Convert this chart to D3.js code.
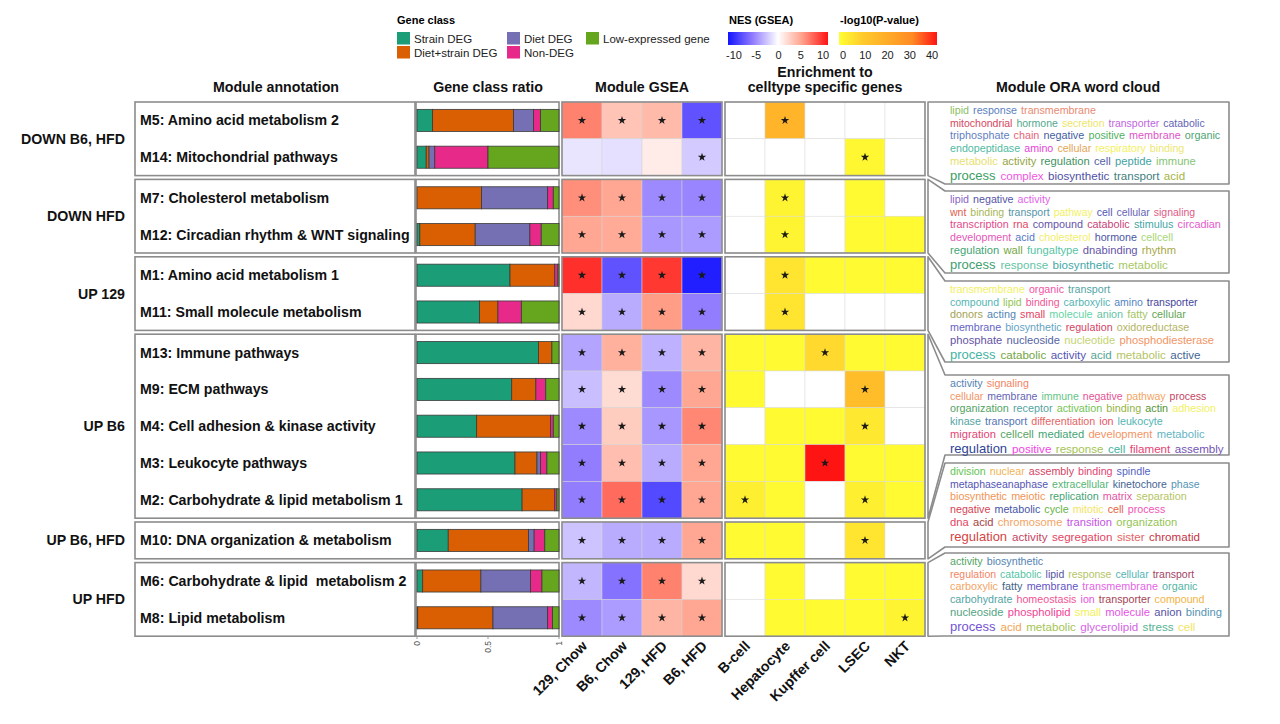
<!DOCTYPE html>
<html><head><meta charset="utf-8">
<script src="https://cdn.jsdelivr.net/npm/d3@7"></script>
<style>body{margin:0;background:#fff} text{font-family:"Liberation Sans",Arial,Helvetica,sans-serif}</style>
</head><body><svg id="c" width="1280" height="724"></svg>
<script>
// ---------------- DATA ----------------
const groups = ["DOWN B6, HFD","DOWN HFD","UP 129","UP B6","UP B6, HFD","UP HFD"];
const groupSizes = [2,2,2,5,1,2];
const modules = ["M5: Amino acid metabolism 2","M14: Mitochondrial pathways","M7: Cholesterol metabolism",
  "M12: Circadian rhythm & WNT signaling","M1: Amino acid metabolism 1","M11: Small molecule metabolism",
  "M13: Immune pathways","M9: ECM pathways","M4: Cell adhesion & kinase activity","M3: Leukocyte pathways",
  "M2: Carbohydrate & lipid metabolism 1","M10: DNA organization & metabolism",
  "M6: Carbohydrate & lipid  metabolism 2","M8: Lipid metabolism"];
const geneClasses = ["Strain DEG","Diet+strain DEG","Diet DEG","Non-DEG","Low-expressed gene"];
const classColors = ["#1b9e77","#d95f02","#7570b3","#e7298a","#66a61e"];
const strainDEG      = [0.11,0.065,0.0, 0.02,0.655,0.44,0.855,0.667,0.42,0.69,0.74,0.22,0.04,0.005];
const dietStrainDEG  = [0.57,0.02,0.455,0.39,0.315,0.13,0.095,0.17,0.52,0.155,0.23,0.565,0.41,0.53];
const dietDEG        = [0.14,0.04,0.465,0.385,0.0,0.0, 0.0, 0.0, 0.0, 0.025,0.0, 0.04,0.35,0.385];
const nonDEG         = [0.05,0.375,0.04,0.08,0.022,0.165,0.0,0.07,0.02,0.045,0.015,0.075,0.08,0.035];
const lowExpressed   = [0.13,0.50,0.04,0.125,0.008,0.265,0.05,0.093,0.04,0.085,0.015,0.10,0.12,0.045];

const gseaConditions = ["129, Chow","B6, Chow","129, HFD","B6, HFD"];
const nes129Chow = [6.0,-1.0, 5.5, 4.5, 9.0, 2.0,-3.5,-2.5,-4.5,-5.0,-5.0,-2.3,-2.8,-4.5];
const nesB6Chow  = [3.0,-1.2, 4.5, 4.3,-7.0,-3.2, 4.0, 1.8, 2.6, 3.3, 6.8,-3.2,-5.5,-3.8];
const nes129HFD  = [3.5, 1.0,-4.5,-4.0, 8.7, 5.0,-3.0,-4.5,-4.0,-3.2,-7.5,-3.2, 6.0, 3.8];
const nesB6HFD   = [-7.0,-2.0,-4.7,-3.8,-9.5,-5.0,3.8, 4.5, 5.8, 4.5, 4.5, 4.5, 2.0, 4.5];
const sig129Chow = [1,0,1,1,1,1,1,1,1,1,1,1,1,1];
const sigB6Chow  = [1,0,1,1,1,1,1,1,1,1,1,1,1,1];
const sig129HFD  = [1,0,1,1,1,1,1,1,1,1,1,1,1,1];
const sigB6HFD   = [1,1,1,1,1,1,1,1,1,1,1,1,1,1];

const celltypes = ["B-cell","Hepatocyte","Kupffer cell","LSEC","NKT"];
const pBcell   = [null,null,null,null,null,null,1,1,null,1,3,1,null,null];
const pHepato  = [17,null,2,2,5,5,1,null,1,1,1,1,1,1];
const pKupffer = [null,null,null,null,1,null,7,null,1,40,null,null,null,1];
const pLSEC    = [null,1.5,1,1,1,null,1,14,4,1,3,5,1,1];
const pNKT     = [null,null,null,1,1,null,1,null,null,1,1,null,1,2];
const sigBcell   = [0,0,0,0,0,0,0,0,0,0,1,0,0,0];
const sigHepato  = [1,0,1,1,1,1,0,0,0,0,0,0,0,0];
const sigKupffer = [0,0,0,0,0,0,1,0,0,1,0,0,0,0];
const sigLSEC    = [0,1,0,0,0,0,0,1,1,0,1,1,0,0];
const sigNKT     = [0,0,0,0,0,0,0,0,0,0,0,0,0,1];

const nesTicks = [-10,-5,0,5,10];
const pTicks = [0,10,20,30,40];
const barTicks = [0,0.5,1];

const cloud1 = [
 [["lipid","#8cc063"],["response","#5b7fc0"],["transmembrane","#ea8a72"]],
 [["mitochondrial","#d6465e"],["hormone","#4fa98c"],["secretion","#ede56a"],["transporter","#c065e0"],["catabolic","#6464b4"]],
 [["triphosphate","#5f7fc0"],["chain","#e6647a"],["negative","#44609f"],["positive","#52b062"],["membrane","#e055c8"],["organic","#4fa372"]],
 [["endopeptidase","#52baa2"],["amino","#e544d6"],["cellular","#e3a655"],["respiratory","#f4f060"],["binding","#ede772"]],
 [["metabolic","#e8e070"],["activity","#94a544"],["regulation","#3f9262"],["cell","#5262a5"],["peptide","#41a2a2"],["immune","#84c473"]],
 [["process","#3aa064"],["complex","#f055e3"],["biosynthetic","#5050a4"],["transport","#3f8080"],["acid","#a4b444"]]];
const cloud2 = [
 [["lipid","#8a64c8"],["negative","#5454a8"],["activity","#e064e6"]],
 [["wnt","#e0604e"],["binding","#a8b658"],["transport","#5594a8"],["pathway","#f2f064"],["cell","#5254b4"],["cellular","#6464b4"],["signaling","#e05a86"]],
 [["transcription","#e4488a"],["rna","#e44866"],["compound","#6454a8"],["catabolic","#c84478"],["stimulus","#44a6a6"],["circadian","#e458cc"]],
 [["development","#e458b8"],["acid","#5478c8"],["cholesterol","#f2ee6a"],["hormone","#4a56a6"],["cellcell","#a8d678"]],
 [["regulation","#44a474"],["wall","#74a844"],["fungaltype","#56c4a6"],["dnabinding","#6454a8"],["rhythm","#a8a848"]],
 [["process","#40a070"],["response","#64c4a4"],["biosynthetic","#44a8a8"],["metabolic","#a8c864"]]];
const cloud3 = [
 [["transmembrane","#f2f064"],["organic","#f254a4"],["transport","#54a4a4"]],
 [["compound","#54b4b4"],["lipid","#94c454"],["binding","#f25494"],["carboxylic","#54b4b4"],["amino","#5484c4"],["transporter","#44449a"]],
 [["donors","#a4a454"],["acting","#5484b4"],["small","#e44464"],["molecule","#64d4a4"],["anion","#64c4a4"],["fatty","#a4c464"],["cellular","#64a454"]],
 [["membrane","#6464c4"],["biosynthetic","#64a4c4"],["regulation","#d44464"],["oxidoreductase","#b4b464"]],
 [["phosphate","#6454a4"],["nucleoside","#5464a4"],["nucleotide","#c4d474"],["phosphodiesterase","#f29464"]],
 [["process","#44b4a4"],["catabolic","#74a444"],["activity","#5454b4"],["acid","#54a494"],["metabolic","#b4c464"],["active","#446494"]]];
const cloud4 = [
 [["activity","#5484b4"],["signaling","#f28464"]],
 [["cellular","#f29464"],["membrane","#6464b4"],["immune","#64c484"],["negative","#e45494"],["pathway","#f2a464"],["process","#c44464"]],
 [["organization","#54a464"],["receptor","#54a4a4"],["activation","#74c454"],["binding","#94b444"],["actin","#549434"],["adhesion","#f2f064"]],
 [["kinase","#54a4a4"],["transport","#5474b4"],["differentiation","#e46464"],["ion","#e45464"],["leukocyte","#54b4b4"]],
 [["migration","#e44474"],["cellcell","#54a464"],["mediated","#44a474"],["development","#f29464"],["metabolic","#64b4c4"]],
 [["regulation","#304494"],["positive","#f244e4"],["response","#a4c454"],["cell","#44b4a4"],["filament","#e44474"],["assembly","#7454b4"]]];
const cloud5 = [
 [["division","#64c454"],["nuclear","#f2b454"],["assembly","#d44464"],["binding","#e44474"],["spindle","#5464c4"]],
 [["metaphaseanaphase","#5454b4"],["extracellular","#54b474"],["kinetochore","#446494"],["phase","#5494b4"]],
 [["biosynthetic","#f29454"],["meiotic","#f29454"],["replication","#44a474"],["matrix","#e454a4"],["separation","#b4c464"]],
 [["negative","#d44454"],["metabolic","#4454a4"],["cycle","#64b444"],["mitotic","#f2e464"],["cell","#e46444"],["process","#f254b4"]],
 [["dna","#e44464"],["acid","#a44444"],["chromosome","#f2a464"],["transition","#c454e4"],["organization","#94c454"]],
 [["regulation","#d44444"],["activity","#c44464"],["segregation","#e44464"],["sister","#e46464"],["chromatid","#c43444"]]];
const cloud6 = [
 [["activity","#54a464"],["biosynthetic","#5484b4"]],
 [["regulation","#f28464"],["catabolic","#54c4a4"],["lipid","#5454a4"],["response","#b4c464"],["cellular","#54b4b4"],["transport","#a44464"]],
 [["carboxylic","#f2a464"],["fatty","#446484"],["membrane","#6454c4"],["transmembrane","#e464e4"],["organic","#54b4a4"]],
 [["carbohydrate","#54a4a4"],["homeostasis","#f25494"],["ion","#e454e4"],["transporter","#a44454"],["compound","#f2b444"]],
 [["nucleoside","#54a484"],["phospholipid","#f24494"],["small","#f2f054"],["molecule","#e454e4"],["anion","#5454a4"],["binding","#5494b4"]],
 [["process","#7454d4"],["acid","#f2a454"],["metabolic","#a4c454"],["glycerolipid","#d464e4"],["stress","#54b494"],["cell","#f2e464"]]];
const clouds = [cloud1,cloud2,cloud3,cloud4,cloud5,cloud6];
const cloudBoxes = [[102,184],[191,273],[281,362],[375,455],[463,547],[553,636]];

// ---------------- LAYOUT ----------------
const svg = d3.select("#c");
const frameCol = "#8c8c8c";
const BOLD = 14.2;
const rowH = 36.8, gap = 3.8, topY = 102;
const groupIdx = [];
groupSizes.forEach((n,g)=>{for(let k=0;k<n;k++) groupIdx.push(g);});
const y = d3.scaleBand().domain(modules).range([topY, topY + modules.length*rowH]).padding(0);
const rowTop = (m) => y(m) + groupIdx[modules.indexOf(m)]*gap;
const groupExt = groups.map((g,gi)=>{
  const ms = modules.filter((m,i)=>groupIdx[i]===gi);
  return {name:g, top: rowTop(ms[0]), bot: rowTop(ms[ms.length-1]) + y.bandwidth()};
});

const xBar = d3.scaleLinear().domain([0,1]).range([417,559]);
const xG = d3.scaleBand().domain(gseaConditions).range([562,722]);
const xC = d3.scaleBand().domain(celltypes).range([725,925]);
const nesColor = d3.scaleLinear().domain(nesTicks).range(["#1414ff","#927dff","#ffffff","#ff9d86","#ff1414"]).clamp(true);
const pColor = d3.scaleLinear().domain(pTicks).range(["#ffff33","#ffc92c","#ffab28","#ff8a24","#ff1414"]).clamp(true);

// ---------------- LEGEND ----------------
const leg = svg.append("g");
leg.append("text").attr("x",397).attr("y",24).attr("font-size",11).attr("font-weight","bold").text("Gene class");
const legPos = [[397,32],[397,46],[507,32],[507,46],[586,32]];
geneClasses.forEach((c,i)=>{
  const [lx,ly] = legPos[i];
  leg.append("rect").attr("x",lx).attr("y",ly).attr("width",13).attr("height",12.5).attr("fill",classColors[i]);
  leg.append("text").attr("x",lx+17).attr("y",ly+10.5).attr("font-size",11.5).attr("fill","#222").text(c);
});
const defs = svg.append("defs");
function grad(id, scale, ticks){
  const gr = defs.append("linearGradient").attr("id",id);
  const d0 = ticks[0], d1 = ticks[ticks.length-1];
  d3.range(0,1.0001,0.05).forEach(t=>gr.append("stop").attr("offset",t).attr("stop-color",scale(d0+t*(d1-d0))));
}
grad("gNES", nesColor, nesTicks);
grad("gP", pColor, pTicks);
const nesLeg = d3.scaleLinear().domain([-10,10]).range([734,823]);
leg.append("text").attr("x",729).attr("y",24).attr("font-size",11).attr("font-weight","bold").text("NES (GSEA)");
leg.append("rect").attr("x",728).attr("y",32).attr("width",100).attr("height",13).attr("fill","url(#gNES)");
nesTicks.forEach(t=>leg.append("text").attr("x",nesLeg(t)).attr("y",59).attr("font-size",11).attr("text-anchor","middle").attr("fill","#222").text(t));
const pLeg = d3.scaleLinear().domain([0,40]).range([843,932]);
leg.append("text").attr("x",840).attr("y",24).attr("font-size",11).attr("font-weight","bold").text("-log10(P-value)");
leg.append("rect").attr("x",839).attr("y",32).attr("width",98).attr("height",13).attr("fill","url(#gP)");
pTicks.forEach(t=>leg.append("text").attr("x",pLeg(t)).attr("y",59).attr("font-size",11).attr("text-anchor","middle").attr("fill","#222").text(t));

// ---------------- HEADERS ----------------
const hdr = (x,yy,t)=>svg.append("text").attr("x",x).attr("y",yy).attr("text-anchor","middle").attr("font-size",BOLD).attr("font-weight","bold").attr("fill","#111").text(t);
hdr(276,92,"Module annotation");
hdr(488,92,"Gene class ratio");
hdr(642,92,"Module GSEA");
hdr(825,77,"Enrichment to");
hdr(825,92,"celltype specific genes");
hdr(1078,92,"Module ORA word cloud");

// ---------------- ANNOTATION PANEL ----------------
groupExt.forEach(g=>{
  svg.append("rect").attr("x",135).attr("y",g.top).attr("width",280).attr("height",g.bot-g.top)
    .attr("fill","#fff").attr("stroke",frameCol).attr("stroke-width",1.6);
  svg.append("text").attr("x",125).attr("y",(g.top+g.bot)/2+5).attr("text-anchor","end")
    .attr("font-size",BOLD).attr("font-weight","bold").attr("fill","#111").text(g.name);
});
modules.forEach(m=>{
  svg.append("text").attr("x",140).attr("y",rowTop(m)+y.bandwidth()/2+5).attr("font-size",BOLD)
    .attr("font-weight","bold").attr("fill","#111").style("white-space","pre").text(m);
});

// ---------------- BAR PANEL ----------------
groupExt.forEach(g=>{
  svg.append("rect").attr("x",416).attr("y",g.top).attr("width",143).attr("height",g.bot-g.top)
    .attr("fill","#fff").attr("stroke",frameCol).attr("stroke-width",1.6);
});
const table = modules.map((m,i)=>({m, "Strain DEG":strainDEG[i],"Diet+strain DEG":dietStrainDEG[i],
  "Diet DEG":dietDEG[i],"Non-DEG":nonDEG[i],"Low-expressed gene":lowExpressed[i]}));
const stacked = d3.stack().keys(geneClasses)(table);
const bh = y.bandwidth()*0.6;
stacked.forEach((s,ki)=>{
  svg.append("g").selectAll("rect").data(s.filter(d=>d[1]-d[0]>0)).join("rect")
    .attr("x",d=>xBar(d[0])).attr("width",d=>xBar(Math.min(d[1],1))-xBar(d[0]))
    .attr("y",d=>rowTop(d.data.m)+(y.bandwidth()-bh)/2).attr("height",bh)
    .attr("fill",classColors[ki]).attr("stroke","#3a3a3a").attr("stroke-width",0.8);
});
const axB = svg.append("g");
barTicks.forEach(t=>{
  axB.append("line").attr("x1",xBar(t)).attr("x2",xBar(t)).attr("y1",636).attr("y2",639).attr("stroke","#999");
  axB.append("text").attr("transform",`translate(${xBar(t)+3},641) rotate(-90)`).attr("text-anchor","end")
    .attr("font-size",8.5).attr("fill","#555").text(t);
});

// ---------------- GSEA HEATMAP ----------------
const nesCols = [nes129Chow,nesB6Chow,nes129HFD,nesB6HFD];
const nesSig = [sig129Chow,sigB6Chow,sig129HFD,sigB6HFD];
const star = d3.symbol(d3.symbolStar, 22);
const gseaCells = [];
gseaConditions.forEach((c,ci)=>modules.forEach((m,ri)=>gseaCells.push({c,m,v:nesCols[ci][ri],s:nesSig[ci][ri]})));
svg.append("g").selectAll("rect").data(gseaCells).join("rect")
  .attr("x",d=>xG(d.c)).attr("y",d=>rowTop(d.m)).attr("width",xG.bandwidth()).attr("height",y.bandwidth())
  .attr("fill",d=>nesColor(d.v)).attr("stroke","#d4d4d4").attr("stroke-width",0.5);
svg.append("g").selectAll("path").data(gseaCells.filter(d=>d.s)).join("path")
  .attr("d",star).attr("transform",d=>`translate(${xG(d.c)+xG.bandwidth()/2},${rowTop(d.m)+y.bandwidth()/2})`).attr("fill","#1a1a1a");
groupExt.forEach(g=>svg.append("rect").attr("x",562).attr("y",g.top).attr("width",160).attr("height",g.bot-g.top)
  .attr("fill","none").attr("stroke",frameCol).attr("stroke-width",1.6));
gseaConditions.forEach(c=>svg.append("text").attr("transform",`translate(${xG(c)+xG.bandwidth()/2+6},647) rotate(-45)`)
  .attr("text-anchor","end").attr("font-size",BOLD).attr("font-weight","bold").attr("fill","#111").text(c));

// ---------------- CELLTYPE HEATMAP ----------------
const pCols = [pBcell,pHepato,pKupffer,pLSEC,pNKT];
const pSig = [sigBcell,sigHepato,sigKupffer,sigLSEC,sigNKT];
const ctCells = [];
celltypes.forEach((c,ci)=>modules.forEach((m,ri)=>ctCells.push({c,m,v:pCols[ci][ri],s:pSig[ci][ri]})));
svg.append("g").selectAll("rect").data(ctCells).join("rect")
  .attr("x",d=>xC(d.c)).attr("y",d=>rowTop(d.m)).attr("width",xC.bandwidth()).attr("height",y.bandwidth())
  .attr("fill",d=>d.v==null?"#ffffff":pColor(d.v)).attr("stroke","#dadada").attr("stroke-width",0.5);
svg.append("g").selectAll("path").data(ctCells.filter(d=>d.s)).join("path")
  .attr("d",star).attr("transform",d=>`translate(${xC(d.c)+xC.bandwidth()/2},${rowTop(d.m)+y.bandwidth()/2})`).attr("fill","#1a1a1a");
groupExt.forEach(g=>svg.append("rect").attr("x",725).attr("y",g.top).attr("width",200).attr("height",g.bot-g.top)
  .attr("fill","none").attr("stroke",frameCol).attr("stroke-width",1.6));
celltypes.forEach(c=>svg.append("text").attr("transform",`translate(${xC(c)+xC.bandwidth()/2+6},647) rotate(-45)`)
  .attr("text-anchor","end").attr("font-size",BOLD).attr("font-weight","bold").attr("fill","#111").text(c));

// ---------------- WORD CLOUDS ----------------
const lineOff = [12, 24.5, 37, 50, 63, 78];
const lineSize = [10.7, 10.5, 10.8, 10.7, 11.2, 11.6];
clouds.forEach((cl,bi)=>{
  const [bt,bb] = cloudBoxes[bi];
  const g = groupExt[bi];
  const pts = [[928,g.top],[945,bt],[1229,bt],[1229,bb],[945,bb],[928,g.bot]];
  if (bi===0){ pts[0]=[928,bt]; }
  svg.append("path").attr("d",d3.line()(pts)+"Z").attr("fill","#fff").attr("stroke",frameCol).attr("stroke-width",1.6)
    .attr("stroke-linejoin","round");
  cl.forEach((line,li)=>{
    let cx = 950;
    line.forEach(([w,col],wi)=>{
      let fs = lineSize[li];
      if (li===5 && wi===0) fs = 13;
      const t = svg.append("text").attr("x",cx).attr("y",bt+lineOff[li]).attr("font-size",fs).attr("fill",col).text(w);
      cx += t.node().getComputedTextLength() + fs*0.38;
    });
  });
});
</script></body></html>
